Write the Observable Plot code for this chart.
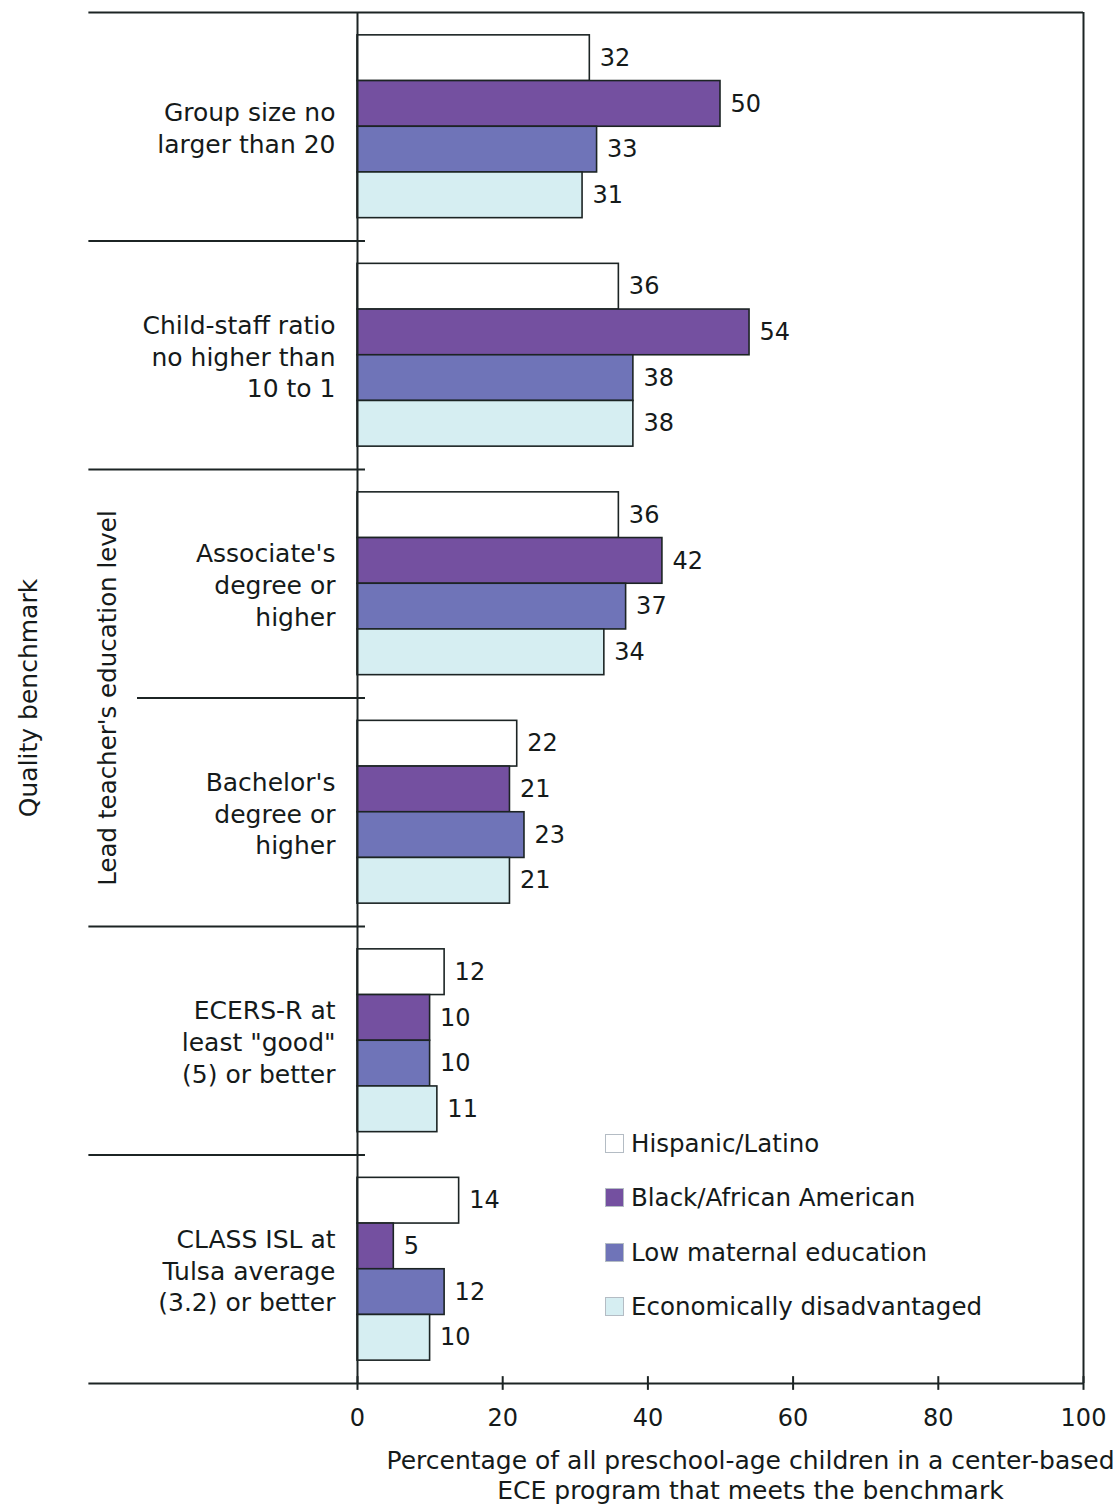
<!DOCTYPE html>
<html><head><meta charset="utf-8">
<script src="https://cdn.jsdelivr.net/npm/d3@7"></script>
<script src="https://cdn.jsdelivr.net/npm/@observablehq/plot@0.6"></script>
<style>
body{margin:0;background:#fff;}
#wrap{position:relative;width:1120px;height:1507px;font-family:"DejaVu Sans",Verdana,sans-serif;color:#151a1a;}
#legend{position:absolute;left:605px;top:1116px;}
.row{display:flex;align-items:center;height:54.5px;font-size:24.5px;white-space:nowrap;}
.sw{width:19px;height:19px;margin-right:7px;box-sizing:border-box;border:1px solid #b4bcc4;}
</style></head><body>
<div id="wrap"><div id="chart"></div><div id="legend"></div></div>
<script>
const benchmarks = [
  "Group size no\nlarger than 20",
  "Child-staff ratio\nno higher than\n10 to 1",
  "Associate's\ndegree or\nhigher",
  "Bachelor's\ndegree or\nhigher",
  "ECERS-R at\nleast \"good\"\n(5) or better",
  "CLASS ISL at\nTulsa average\n(3.2) or better"
];
const series = ["Hispanic/Latino", "Black/African American", "Low maternal education", "Economically disadvantaged"];
const colors = ["#ffffff", "#7450a0", "#6f74b8", "#d6eef2"];
const hispanic    = [32, 36, 36, 22, 12, 14];
const black       = [50, 54, 42, 21, 10, 5];
const lowMaternal = [33, 38, 37, 23, 10, 12];
const econ        = [31, 38, 34, 21, 11, 10];
const xTicks = [0, 20, 40, 60, 80, 100];
const xTitle = "Percentage of all preschool-age children in a center-based\nECE program that meets the benchmark";
const yTitle = "Quality benchmark";
const subTitle = "Lead teacher's education level";
const subGroups = [2, 3]; // indices of benchmarks under subTitle

// build table
const data = [];
[hispanic, black, lowMaternal, econ].forEach((vals, s) =>
  vals.forEach((v, g) => data.push({g, s, series: series[s], value: v})));
const slot = series.length + 1;          // units per group (bars + gap)
const nG = benchmarks.length;
const groups = benchmarks.map((label, g) => ({g, label}));
const seps = d3.range(1, nG).map(i => ({i, sub: i === subGroups[1]}));

// layout constants (data units of x)
const outerLeft = -37, subLeft = -30.3, sepRight = 1.1, tickHalf = 0.15;
const ink = "#1c2424";
const txt = "#151a1a";

const plot = Plot.plot({
  width: 1120, height: 1507,
  marginLeft: 357, marginRight: 37, marginTop: 12, marginBottom: 124,
  x: {domain: [0, 100], axis: null},
  y: {domain: [0, nG * slot], reverse: true, axis: null},
  color: {domain: series, range: colors},
  style: {fontFamily: "DejaVu Sans, Verdana, sans-serif", fontSize: "24px", color: txt, background: "#fff"},
  marks: [
    Plot.rect(data, {
      x1: 0, x2: "value",
      y1: d => d.g * slot + 0.5 + d.s, y2: d => d.g * slot + 1.5 + d.s,
      fill: "series", stroke: ink, strokeWidth: 1.6
    }),
    Plot.text(data, {
      x: "value", y: d => d.g * slot + 1 + d.s, text: d => String(d.value),
      dx: 10, textAnchor: "start", fontSize: 24, fill: txt
    }),
    // frame lines
    Plot.ruleY([0, nG * slot], {x1: outerLeft, x2: 100, stroke: ink, strokeWidth: 2}),
    Plot.ruleX([0, 100], {y1: 0, y2: nG * slot, stroke: ink, strokeWidth: 2}),
    // group separators
    Plot.ruleY(seps, {y: d => d.i * slot, x1: d => d.sub ? subLeft : outerLeft, x2: sepRight, stroke: ink, strokeWidth: 2}),
    // ticks
    Plot.ruleX(xTicks, {x: d => d, y1: nG * slot - tickHalf, y2: nG * slot + tickHalf, stroke: ink, strokeWidth: 2}),
    Plot.text(xTicks, {x: d => d, frameAnchor: "bottom", lineAnchor: "middle", dy: 35, text: d => String(d), fontSize: 24, fill: txt}),
    // axis title
    Plot.text([xTitle], {frameAnchor: "bottom", textAnchor: "middle", lineAnchor: "middle", dx: 30, dy: 91, text: d => d, lineHeight: 1.2, fontSize: 25, fill: txt}),
    // category labels
    Plot.text(groups, {y: d => d.g * slot + slot / 2, frameAnchor: "left", dx: -22, textAnchor: "end", lineAnchor: "middle", text: "label", lineHeight: 1.28, fontSize: 25, fill: txt}),
    // rotated labels
    Plot.text([yTitle], {frameAnchor: "left", textAnchor: "middle", lineAnchor: "middle", dx: -329, rotate: -90, text: d => d, fontSize: 25, fill: txt}),
    Plot.text([subTitle], {y: () => subGroups[1] * slot, frameAnchor: "left", textAnchor: "middle", lineAnchor: "middle", dx: -249, rotate: -90, text: d => d, fontSize: 24.5, fill: txt})
  ]
});
document.getElementById("chart").appendChild(plot);

// legend
const leg = d3.select("#legend").selectAll("div.row").data(series).join("div").attr("class", "row");
leg.append("div").attr("class", "sw").style("background", (d, i) => colors[i]);
leg.append("span").text(d => d);
</script>
</body></html>
